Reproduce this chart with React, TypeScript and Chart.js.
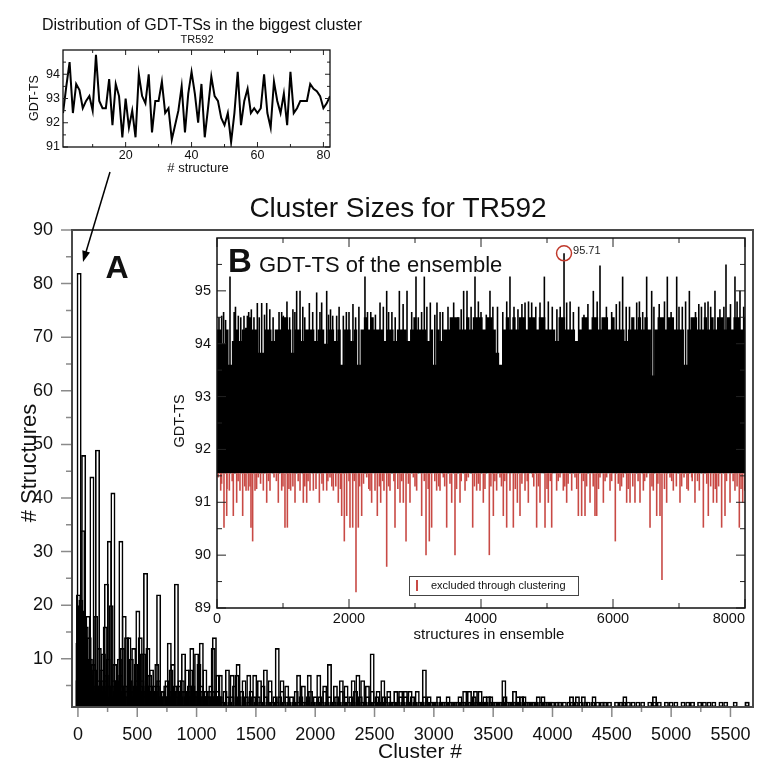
import React, { useEffect, useRef } from "react";
import { Chart, registerables } from "chart.js";
Chart.register(...registerables);

const FONT = '"Liberation Sans", Arial, Helvetica, sans-serif';
const RED = "#c84a45";

// ---------- Top-left inset: GDT-TS of the 82 structures of the biggest cluster ----------
const biggestClusterGdt = [
  92.4, 93.5, 94.5, 92.4, 93.6, 93.35, 92.6, 92.9, 93.1, 92.5,
  94.8, 92.9, 92.6, 92.6, 93.8, 91.9, 93.6, 93.1, 91.4, 93.0,
  91.8, 92.5, 91.4, 94.0, 93.1, 92.8, 94.0, 91.6, 92.9, 92.9,
  93.7, 92.4, 92.6, 91.3, 91.9, 92.5, 93.5, 91.6, 93.2, 94.1,
  93.2, 92.0, 93.6, 91.4, 92.6, 93.9, 93.1, 92.9, 92.2, 91.9,
  92.4, 91.2, 92.4, 94.1, 91.9, 92.9, 93.4, 92.4, 92.6, 92.4,
  92.6, 94.0, 92.4, 91.8, 93.7, 92.9, 92.4, 93.2, 91.9, 94.1,
  92.4, 92.6, 92.9, 92.9, 92.9, 93.6, 93.4, 93.3, 93.1, 92.6, 92.8, 93.1,
];
const topXTicks = [20, 40, 60, 80];
const topXMinor = [10, 30, 50, 70];
const topYTicks = [91, 92, 93, 94];
const topYMinor = [91.5, 92.5, 93.5, 94.5];

// ---------- Main chart: cluster sizes ----------
const peakClusterIds = [
  0, 5, 10, 18, 25, 32, 40, 48, 55, 62, 70, 85, 95, 105, 118, 130, 150, 165, 180, 200,
  215, 230, 240, 255, 265, 280, 295, 310, 350, 362, 375, 390, 410, 430, 450, 470, 490, 505, 525, 540,
  555, 570, 590, 605, 620, 665, 680, 750, 770, 785, 800, 830, 860, 890, 920, 950, 960, 1000, 1020, 1040,
  1070, 1140, 1150, 1180, 1200, 1260, 1300, 1340, 1350, 1400, 1440, 1490, 1530, 1580, 1620, 1680, 1720, 1760, 1860, 1900,
  1950, 2030, 2080, 2120, 2170, 2220, 2260, 2320, 2360, 2400, 2440, 2480, 2530, 2570, 2620, 2680, 2720, 2760, 2800, 2920,
  3260, 3300, 3350, 3390, 3430, 3480, 3590, 3680, 3710, 3760, 3920, 4160, 4210, 4260, 4350, 4610, 4860, 5640,
];
const peakClusterSizes = [
  13, 22, 82, 20, 21, 19, 34, 48, 14, 12, 16, 18, 14, 10, 44, 9, 18, 49, 12, 8,
  11, 16, 24, 10, 32, 20, 41, 9, 10, 32, 12, 18, 14, 14, 10, 12, 9, 19, 14, 11,
  11, 26, 12, 7, 8, 9, 22, 6, 13, 8, 9, 24, 6, 11, 8, 8, 12, 11, 9, 13,
  8, 12, 14, 7, 7, 8, 7, 7, 9, 6, 7, 7, 6, 8, 6, 12, 6, 5, 7, 5,
  7, 7, 5, 9, 5, 6, 5, 6, 7, 6, 5, 11, 4, 6, 4, 4, 4, 4, 4, 8,
  4, 4, 4, 4, 3, 3, 6, 4, 3, 3, 3, 3, 3, 3, 3, 3, 3, 2,
];
// sizes of every 20th cluster (cluster 0, 20, 40, ... 5640)
const sampledClusterStep = 20;
const sampledClusterSizes = [
  6, 9, 5, 7, 4, 6, 5, 8, 4, 5, 6, 4, 7, 5, 3, 6, 4, 5, 7, 4,
  5, 3, 6, 4, 5, 3, 4, 6, 3, 5, 4, 3, 5, 4, 6, 3, 4, 5, 3, 4,
  3, 5, 4, 3, 6, 4, 3, 5, 3, 4, 3, 4, 5, 3, 4, 3, 5, 4, 3, 4,
  3, 2, 4, 3, 2, 3, 5, 2, 3, 4, 2, 3, 2, 4, 3, 2, 3, 2, 5, 3,
  2, 4, 2, 3, 2, 3, 4, 2, 3, 2, 3, 2, 4, 2, 3, 2, 2, 3, 4, 2,
  3, 2, 3, 2, 4, 2, 3, 2, 2, 3, 2, 4, 2, 3, 2, 3, 2, 4, 2, 3,
  2, 2, 3, 2, 4, 2, 3, 2, 2, 3, 2, 3, 2, 2, 4, 2, 3, 2, 3, 2,
  2, 3, 2, 4, 2, 2, 3, 2, 3, 2,
  2, 2, 3, 2, 2, 2, 3, 2, 2, 2, 2, 3, 2, 2, 2, 2, 2, 3, 2, 2,
  2, 2, 2, 3, 2, 2, 2, 2, 2, 2, 3, 2, 2, 2, 2, 2, 2, 3, 2, 2,
  2, 2, 2, 2, 3, 2, 2, 2, 2, 2,
  2, 1, 2, 2, 1, 2, 1, 2, 2, 1, 2, 1, 2, 1, 2, 2, 1, 2, 1, 2,
  1, 2, 2, 1, 2, 1, 1, 2, 1, 2, 2, 1, 2, 1, 2, 1, 2, 1, 2, 1,
  1, 2, 1, 2, 1, 2, 1, 1, 2, 1, 2, 1, 2, 1, 1, 2, 1, 2, 1, 2,
  1, 1, 2, 1, 2, 1, 2, 1, 2, 1, 1, 2, 1, 2, 1, 1, 1, 2, 1, 1,
  1, 1, 2,
];
// sizes of clusters 10, 30, 50, ... 1190 (the dense start of the list)
const sampledOddClusterStart = 10;
const sampledOddClusterSizes = [
  8, 5, 10, 6, 4, 7, 5, 4, 6, 5, 4, 6, 5, 3, 5, 4, 6, 4, 5, 3,
  4, 5, 3, 4, 6, 3, 5, 4, 3, 4, 5, 3, 4, 5, 3, 4, 3, 5, 4, 3,
  4, 3, 5, 3, 4, 3, 4, 3, 5, 3, 4, 3, 4, 3, 3, 4, 3, 4, 3, 3,
];
const mainXTicks = [0, 500, 1000, 1500, 2000, 2500, 3000, 3500, 4000, 4500, 5000, 5500];
const mainXMinor = [250, 750, 1250, 1750, 2250, 2750, 3250, 3750, 4250, 4750, 5250];
const mainYTicks = [10, 20, 30, 40, 50, 60, 70, 80, 90];
const mainYMinor = [5, 15, 25, 35, 45, 55, 65, 75, 85];

// ---------- Inset B: GDT-TS of the ensemble ----------
const clusterCutoff = 91.55;
const bestStructure = 5258;
const bestValue = 95.71;
const plateauStep = 50;
const ensemblePlateau = [
  94.27, 94.27, 94.0, 94.27, 93.6, 94.05, 94.27, 94.05, 94.27, 94.3,
  94.5, 94.27, 94.27, 93.83, 93.83, 94.27, 94.27, 94.05, 94.27, 94.27,
  94.5, 94.5, 94.27, 93.83, 94.27, 94.27, 94.05, 94.27, 94.27, 94.27,
  94.05, 94.27, 94.27, 94.0, 94.27, 94.27, 94.05, 94.27, 93.6, 94.27,
  94.27, 94.05, 94.27, 93.6, 94.27, 94.5, 94.27, 94.5, 94.27, 94.27,
  94.27, 94.05, 94.27, 94.27, 94.05, 94.27, 94.27, 94.27, 94.05, 94.27,
  94.5, 94.27, 94.27, 94.27, 94.05, 94.27, 93.6, 94.27, 94.05, 94.27,
  94.27, 94.5, 94.5, 94.5, 94.27, 94.27, 94.5, 94.27, 94.5, 94.5,
  94.5, 94.27, 94.5, 94.5, 94.27, 93.83, 93.6, 94.27, 94.5, 94.27,
  94.5, 94.27, 94.5, 94.5, 94.27, 94.5, 94.5, 94.27, 94.5, 94.5,
  94.27, 94.27, 94.27, 94.05, 94.5, 94.5, 94.27, 94.27, 94.27, 94.05,
  94.27, 94.5, 94.5, 94.27, 94.5, 94.5, 94.27, 94.5, 94.5, 94.27,
  94.5, 94.27, 94.27, 94.27, 94.05, 94.27, 94.5, 94.27, 94.5, 94.27,
  94.5, 94.27, 93.4, 94.27, 94.5, 94.5, 94.27, 94.5, 94.5, 94.27,
  94.27, 94.27, 93.6, 94.27, 94.5, 94.5, 94.27, 94.27, 94.5, 94.27,
  94.5, 94.27, 94.5, 94.5, 94.27, 94.5, 94.27, 94.5, 94.5, 94.27,
  94.5,
];
const spikeStructures = [
  71, 197, 323, 409, 460, 611, 677, 753, 1005, 1207, 1258, 1399, 1510, 1586, 1662, 1753, 1813, 1914,
  2242, 2470, 2571, 2763, 2879, 3015, 3141, 3232, 3333, 3586, 3737, 3788, 3909, 4136, 4439, 4667,
  4768, 4894, 4960, 5298, 5702, 5803, 6146, 6359, 6510, 6586, 6823, 6965, 7157, 7394, 7545, 7712,
  7848, 7924,
  30, 130, 260, 360, 520, 560, 720, 850, 940, 1100, 1150, 1330, 1450, 1690, 2000, 2100, 2150, 2330,
  2400, 2650, 2700, 2950, 3050, 3300, 3420, 3650, 3850, 4000, 4080, 4250, 4330, 4560, 4620, 5080,
  5150, 5400, 5480, 5560, 5900, 5980, 6050, 6250, 6450, 6700, 6880, 7050, 7250, 7300, 7480, 7620,
  7780, 7980,
  100, 280, 480, 640, 800, 980, 1060, 1180, 1300, 1560, 1720, 1850, 1960, 2060, 2280, 2520, 2600, 2820,
  3100, 3180, 3380, 3500, 3700, 3960, 4180, 4390, 4500, 4720, 4830, 5020, 5200, 5350, 5620, 5760,
  6100, 6200, 6400, 6620, 6780, 7000, 7100, 7340, 7440, 7680, 7880,
];
const spikeValues = [
  94.53, 95.27, 94.53, 94.53, 94.53, 94.77, 94.77, 94.77, 94.53, 95.0, 95.0, 94.77, 94.97, 94.78, 95.0, 94.53, 94.53, 94.53,
  95.27, 94.78, 95.0, 95.0, 95.0, 95.27, 95.27, 94.78, 94.78, 94.78, 95.0, 95.0, 95.27, 95.0, 95.27, 94.78,
  94.78, 94.78, 95.27, 94.78, 95.0, 95.48, 95.27, 94.78, 95.27, 95.0, 95.27, 95.27, 95.0, 94.78, 95.0, 95.5,
  95.27, 95.0,
  94.5, 94.45, 94.6, 94.5, 94.65, 94.5, 94.55, 94.5, 94.6, 94.5, 94.65, 94.5, 94.6, 94.55, 94.6, 94.5, 94.7, 94.6,
  94.55, 94.6, 94.5, 94.6, 94.5, 94.55, 94.6, 94.5, 94.7, 94.6, 94.55, 94.7, 94.6, 94.65, 94.75, 94.7,
  94.65, 94.6, 94.7, 94.55, 94.7, 94.6, 94.75, 94.7, 94.6, 94.75, 94.6, 94.7, 94.6, 94.75, 94.7, 94.65,
  94.75, 94.7,
  94.6, 94.7, 94.6, 94.5, 94.65, 94.6, 94.8, 94.6, 94.7, 94.6, 94.65, 94.7, 94.6, 94.75, 94.6, 94.7, 94.6, 94.75,
  94.6, 94.7, 94.6, 94.7, 94.65, 94.8, 94.7, 94.8, 94.7, 94.8, 94.7, 94.8, 94.7, 94.8, 94.75, 94.8,
  94.8, 94.7, 94.8, 94.7, 94.8, 94.7, 94.8, 94.7, 94.8, 94.7, 94.8,
];
const excludedStructures = [
  20, 56, 106, 147, 187, 247, 298, 348, 389, 440, 475, 515, 540, 576, 626, 702, 753, 803, 864, 929,
  980, 1030, 1066, 1116, 1182, 1258, 1308, 1359, 1409, 1460, 1551, 1611, 1662, 1712, 1763, 1838, 1889, 1929, 1965, 2015,
  2056, 2106, 2141, 2192, 2268, 2318, 2343, 2394, 2429, 2480, 2530, 2571, 2621, 2697, 2773, 2823, 2864, 2924, 2975, 3025,
  3101, 3167, 3217, 3252, 3328, 3379, 3429, 3480, 3556, 3606, 3682, 3758, 3808, 3874, 3934, 3985, 4035, 4126, 4187, 4237,
  4288, 4338, 4389, 4439, 4490, 4551, 4591, 4667, 4717, 4783, 4843, 4894, 4970, 5020, 5071, 5146, 5197, 5247, 5298, 5374,
  5424, 5475, 5525, 5576, 5652, 5727, 5753, 5803, 5854, 5904, 5955, 6035, 6106, 6157, 6207, 6258, 6333, 6409, 6460, 6510,
  6561, 6611, 6662, 6712, 6742, 6813, 6864, 6914, 7015, 7076, 7141, 7192, 7242, 7308, 7369, 7444, 7520, 7571, 7646, 7697,
  7773, 7848, 7914, 7965, 8000,
  70, 230, 420, 660, 900, 1150, 1380, 1590, 1800, 2000, 2220, 2460, 2680, 2900, 3140, 3360, 3530, 3700, 3960, 4150,
  4360, 4620, 4800, 5050, 5320, 5600, 5880, 6080, 6300, 6480, 6680, 6960, 7200, 7420, 7600, 7820,
  150, 320, 500, 600, 780, 1000, 1090, 1230, 1330, 1500, 1680, 1740, 1870, 2080, 2160, 2300, 2510, 2600, 2740, 2800,
  3000, 3200, 3300, 3450, 3630, 3780, 3900, 4060, 4210, 4310, 4520, 4700, 4870, 5000, 5170, 5270, 5450, 5550, 5700, 5780,
  5980, 6130, 6230, 6380, 6590, 6780, 6890, 7040, 7120, 7280, 7480, 7550, 7720, 7880, 7940,
];
const excludedValues = [
  91.47, 91.22, 90.52, 90.74, 91.22, 90.74, 90.99, 91.22, 90.74, 91.22, 91.22, 90.52, 90.26, 91.22, 91.47, 91.22, 90.99, 91.22, 91.47, 90.99,
  91.22, 90.52, 90.52, 91.22, 90.99, 91.22, 90.99, 90.99, 91.22, 91.22, 90.99, 91.22, 91.22, 91.47, 91.22, 90.99, 90.74, 90.26, 90.74, 90.52,
  90.52, 89.3, 90.52, 90.74, 91.47, 91.22, 90.99, 91.22, 90.74, 90.99, 91.22, 89.78, 91.22, 90.52, 90.99, 90.99, 90.26, 90.99, 91.47, 91.22,
  90.74, 90.0, 90.26, 90.52, 91.22, 91.22, 91.47, 90.52, 90.99, 90.0, 90.99, 91.22, 91.47, 90.52, 91.22, 91.22, 90.99, 90.0, 90.74, 91.22,
  91.47, 90.74, 90.52, 91.22, 90.52, 90.99, 90.74, 91.22, 90.99, 91.47, 90.52, 90.99, 90.52, 90.99, 90.52, 91.22, 91.47, 91.22, 90.99, 91.22,
  91.47, 90.74, 90.74, 90.74, 90.99, 90.74, 90.74, 91.47, 90.99, 91.47, 91.22, 90.26, 91.22, 91.47, 90.99, 90.99, 90.99, 90.99, 91.22, 91.47,
  90.52, 91.22, 90.74, 90.74, 89.53, 90.99, 91.47, 91.22, 90.99, 91.47, 91.22, 91.47, 90.99, 91.22, 90.52, 90.74, 90.99, 90.99, 90.52, 90.74,
  90.99, 91.22, 90.52, 90.99, 91.22,
  91.35, 91.4, 91.3, 91.35, 91.4, 91.3, 91.4, 91.35, 91.3, 91.4, 91.35, 91.3, 91.4, 91.35, 91.4, 91.3, 91.35, 91.4, 91.35, 91.3,
  91.4, 91.35, 91.3, 91.4, 91.35, 91.3, 91.4, 91.35, 91.3, 91.4, 91.35, 91.3, 91.4, 91.35, 91.3, 91.4,
  91.25, 91.4, 91.3, 91.25, 91.4, 91.3, 91.25, 91.4, 91.3, 91.25, 91.4, 91.3, 91.25, 91.4, 91.3, 91.25, 91.4, 91.3, 91.25, 91.4,
  91.3, 91.25, 91.4, 91.3, 91.25, 91.4, 91.3, 91.25, 91.4, 91.3, 91.25, 91.4, 91.3, 91.25, 91.4, 91.3, 91.25, 91.4, 91.3, 91.25,
  91.4, 91.3, 91.25, 91.4, 91.3, 91.25, 91.4, 91.3, 91.25, 91.4, 91.3, 91.25, 91.4, 91.3, 91.25,
];
const ensembleXTicks = [0, 2000, 4000, 6000, 8000];
const ensembleXMinor = [1000, 3000, 5000, 7000];
const ensembleYTicks = [89, 90, 91, 92, 93, 94, 95];
const ensembleYMinor = [89.5, 90.5, 91.5, 92.5, 93.5, 94.5, 95.5];

// ---------- helpers ----------
type TickSpec = { axis: "x" | "y"; values: number[]; len: number; inside: boolean; both: boolean; color: string; width: number };
type TextSpec = { t: string; x: number; y: number; font: string; color?: string; align?: CanvasTextAlign; baseline?: CanvasTextBaseline; rot?: number };

function drawText(ctx: CanvasRenderingContext2D, t: TextSpec) {
  ctx.save();
  ctx.font = t.font;
  ctx.fillStyle = t.color || "#111";
  ctx.textAlign = t.align || "center";
  ctx.textBaseline = t.baseline || "middle";
  ctx.translate(t.x, t.y);
  if (t.rot) ctx.rotate(t.rot);
  ctx.fillText(t.t, 0, 0);
  ctx.restore();
}

function makeDecor(cfg: { bg?: number[]; frameColor: string; frameWidth: number; ticks: TickSpec[]; texts: TextSpec[]; extra?: (c: any) => void }) {
  return {
    id: "decor",
    beforeDraw(chart: any) {
      if (!cfg.bg) return;
      const ctx = chart.ctx;
      ctx.save();
      ctx.fillStyle = "#fff";
      ctx.fillRect(cfg.bg[0], cfg.bg[1], cfg.bg[2], cfg.bg[3]);
      ctx.restore();
    },
    afterDraw(chart: any) {
      const { ctx, chartArea: a, scales } = chart;
      ctx.save();
      for (const tk of cfg.ticks) {
        ctx.strokeStyle = tk.color;
        ctx.lineWidth = tk.width;
        ctx.beginPath();
        for (const v of tk.values) {
          if (tk.axis === "x") {
            const p = scales.x.getPixelForValue(v);
            if (p < a.left - 0.5 || p > a.right + 0.5) continue;
            const d = tk.inside ? -tk.len : tk.len;
            ctx.moveTo(p, a.bottom);
            ctx.lineTo(p, a.bottom + d);
            if (tk.both) {
              ctx.moveTo(p, a.top);
              ctx.lineTo(p, a.top - d);
            }
          } else {
            const p = scales.y.getPixelForValue(v);
            if (p < a.top - 0.5 || p > a.bottom + 0.5) continue;
            const d = tk.inside ? tk.len : -tk.len;
            ctx.moveTo(a.left, p);
            ctx.lineTo(a.left + d, p);
            if (tk.both) {
              ctx.moveTo(a.right, p);
              ctx.lineTo(a.right - d, p);
            }
          }
        }
        ctx.stroke();
      }
      ctx.strokeStyle = cfg.frameColor;
      ctx.lineWidth = cfg.frameWidth;
      ctx.strokeRect(a.left, a.top, a.right - a.left, a.bottom - a.top);
      for (const t of cfg.texts) drawText(ctx, t);
      if (cfg.extra) cfg.extra(chart);
      ctx.restore();
    },
  };
}

function zeroPad(s: any) {
  s.paddingLeft = 0;
  s.paddingRight = 0;
  s.paddingTop = 0;
  s.paddingBottom = 0;
}

function fixedTicks(values: number[]) {
  return (s: any) => {
    s.ticks = values.map((v) => ({ value: v }));
  };
}

const noGrid = { display: false, drawTicks: false };

export default function App() {
  const mainRef = useRef<HTMLCanvasElement>(null);
  const bRef = useRef<HTMLCanvasElement>(null);
  const topRef = useRef<HTMLCanvasElement>(null);

  useEffect(() => {
    // ----- main chart -----
    const mainBars = [
      ...sampledClusterSizes.map((s, i) => ({ x: i * sampledClusterStep, y: s })),
      ...sampledOddClusterSizes.map((s, i) => ({ x: sampledOddClusterStart + i * sampledClusterStep, y: s })),
      ...peakClusterIds.map((c, i) => ({ x: c, y: peakClusterSizes[i] })),
    ];
    const main = new Chart(mainRef.current as HTMLCanvasElement, {
      type: "bar",
      data: {
        datasets: [
          {
            data: mainBars,
            base: 1,
            barThickness: 5,
            borderWidth: 1.6,
            borderColor: "#000",
            backgroundColor: "rgba(0,0,0,0)",
            borderSkipped: false,
            inflateAmount: 0,
          } as any,
        ],
      },
      options: {
        responsive: false,
        animation: false,
        devicePixelRatio: 1,
        events: [],
        layout: { padding: { left: 0, top: 230, right: 11, bottom: 0 } },
        plugins: { legend: { display: false }, tooltip: { enabled: false } },
        scales: {
          x: {
            type: "linear",
            min: -50,
            max: 5690,
            offset: false,
            grid: noGrid,
            border: { display: false },
            ticks: { font: { family: FONT, size: 18 }, color: "#111", padding: 17, maxRotation: 0, minRotation: 0, autoSkip: false, callback: (v: any) => String(v) },
            afterBuildTicks: fixedTicks(mainXTicks),
            afterFit: (s: any) => {
              s.height = 55;
              zeroPad(s);
            },
          },
          y: {
            type: "linear",
            min: 1,
            max: 90,
            stacked: false,
            grid: noGrid,
            border: { display: false },
            ticks: { font: { family: FONT, size: 18 }, color: "#111", padding: 19, autoSkip: false, callback: (v: any) => String(v) },
            afterBuildTicks: fixedTicks(mainYTicks),
            afterFit: (s: any) => {
              s.width = 72;
              zeroPad(s);
            },
          },
        },
      } as any,
      plugins: [
        makeDecor({
          frameColor: "#4a4a4a",
          frameWidth: 2,
          ticks: [
            { axis: "x", values: mainXTicks, len: 10, inside: false, both: false, color: "#8a8a8a", width: 1.5 },
            { axis: "x", values: mainXMinor, len: 5, inside: false, both: false, color: "#8a8a8a", width: 1.5 },
            { axis: "y", values: mainYTicks, len: 11, inside: false, both: false, color: "#8a8a8a", width: 1.5 },
            { axis: "y", values: mainYMinor, len: 6, inside: false, both: false, color: "#8a8a8a", width: 1.5 },
          ],
          texts: [
            { t: "Cluster Sizes for TR592", x: 398, y: 217, font: `28px ${FONT}`, baseline: "alphabetic" },
            { t: "A", x: 117, y: 278, font: `bold 32px ${FONT}`, baseline: "alphabetic" },
            { t: "# Structures", x: 30, y: 463, font: `22px ${FONT}`, rot: -Math.PI / 2 },
            { t: "Cluster #", x: 420, y: 752, font: `21px ${FONT}` },
          ],
          extra: (chart: any) => {
            const ctx = chart.ctx as CanvasRenderingContext2D;
            const x0 = 110, y0 = 172, x1 = 83, y1 = 262;
            const ang = Math.atan2(y1 - y0, x1 - x0);
            ctx.strokeStyle = "#000";
            ctx.lineWidth = 1.5;
            ctx.beginPath();
            ctx.moveTo(x0, y0);
            ctx.lineTo(x1 - 8 * Math.cos(ang), y1 - 8 * Math.sin(ang));
            ctx.stroke();
            ctx.fillStyle = "#000";
            ctx.beginPath();
            ctx.moveTo(x1, y1);
            ctx.lineTo(x1 - 11 * Math.cos(ang) + 4 * Math.sin(ang), y1 - 11 * Math.sin(ang) - 4 * Math.cos(ang));
            ctx.lineTo(x1 - 11 * Math.cos(ang) - 4 * Math.sin(ang), y1 - 11 * Math.sin(ang) + 4 * Math.cos(ang));
            ctx.closePath();
            ctx.fill();
          },
        }) as any,
      ],
    });

    // ----- inset B -----
    const ensembleBars = [
      ...spikeStructures.map((s, i) => ({ x: s, y: spikeValues[i] })),
      { x: bestStructure, y: bestValue },
      ...excludedStructures.map((s, i) => ({ x: s, y: excludedValues[i] })),
    ];
    const plateauPts = ensemblePlateau.map((v, i) => ({ x: i * plateauStep, y: v }));
    const insetB = new Chart(bRef.current as HTMLCanvasElement, {
      type: "bar",
      data: {
        datasets: [
          {
            type: "bar",
            data: ensembleBars,
            base: clusterCutoff,
            barThickness: 1.6,
            borderWidth: 0,
            inflateAmount: 0,
            backgroundColor: (c: any) => (c.raw && c.raw.y < clusterCutoff ? RED : "#000"),
          } as any,
          {
            type: "line",
            data: plateauPts,
            stepped: "middle",
            fill: { value: clusterCutoff },
            backgroundColor: "#000",
            borderColor: "#000",
            borderWidth: 0,
            pointRadius: 0,
          } as any,
        ],
      },
      options: {
        responsive: false,
        animation: false,
        devicePixelRatio: 1,
        events: [],
        layout: { padding: { left: 0, top: 14, right: 5, bottom: 0 } },
        plugins: { legend: { display: false }, tooltip: { enabled: false } },
        scales: {
          x: {
            type: "linear",
            min: 0,
            max: 8000,
            offset: false,
            grid: noGrid,
            border: { display: false },
            ticks: { display: false },
            afterBuildTicks: fixedTicks(ensembleXTicks),
            afterFit: (s: any) => {
              s.height = 38;
              zeroPad(s);
            },
          },
          y: {
            type: "linear",
            min: 89,
            max: 96,
            stacked: false,
            grid: noGrid,
            border: { display: false },
            ticks: { font: { family: FONT, size: 14.5 }, color: "#111", padding: 6, autoSkip: false, callback: (v: any) => String(v) },
            afterBuildTicks: fixedTicks(ensembleYTicks),
            afterFit: (s: any) => {
              s.width = 49;
              zeroPad(s);
            },
          },
        },
      } as any,
      plugins: [
        makeDecor({
          bg: [14, 9, 568, 403],
          frameColor: "#111",
          frameWidth: 1.5,
          ticks: [
            { axis: "x", values: ensembleXTicks, len: 9, inside: true, both: true, color: "#222", width: 1 },
            { axis: "x", values: ensembleXMinor, len: 5, inside: true, both: true, color: "#222", width: 1 },
            { axis: "y", values: ensembleYTicks, len: 9, inside: true, both: true, color: "#222", width: 1 },
            { axis: "y", values: ensembleYMinor, len: 5, inside: true, both: true, color: "#222", width: 1 },
          ],
          texts: [
            { t: "B", x: 72, y: 48, font: `bold 33px ${FONT}`, baseline: "alphabetic" },
            { t: "GDT-TS of the ensemble", x: 91, y: 48, font: `22px ${FONT}`, align: "left", baseline: "alphabetic" },
            { t: "GDT-TS", x: 12, y: 197, font: `14.5px ${FONT}`, rot: -Math.PI / 2 },
            { t: "structures in ensemble", x: 321, y: 411, font: `15px ${FONT}` },
          ],
          extra: (chart: any) => {
            const ctx = chart.ctx as CanvasRenderingContext2D;
            const a = chart.chartArea;
            const sx = chart.scales.x, sy = chart.scales.y;
            ctx.font = `14.5px ${FONT}`;
            ctx.fillStyle = "#111";
            ctx.textBaseline = "middle";
            ensembleXTicks.forEach((v, i) => {
              ctx.textAlign = i === ensembleXTicks.length - 1 ? "right" : "center";
              ctx.fillText(String(v), sx.getPixelForValue(v), a.bottom + 11);
            });
            const px = sx.getPixelForValue(bestStructure), py = sy.getPixelForValue(bestValue);
            ctx.strokeStyle = "#c0392b";
            ctx.lineWidth = 1.5;
            ctx.beginPath();
            ctx.arc(px, py, 7.5, 0, Math.PI * 2);
            ctx.stroke();
            ctx.font = `11px ${FONT}`;
            ctx.fillStyle = "#222";
            ctx.textAlign = "left";
            ctx.fillText(bestValue.toFixed(2), px + 9, py - 2.5);
            // legend
            ctx.fillStyle = "#fff";
            ctx.fillRect(241, 352, 169, 19);
            ctx.strokeStyle = "#444";
            ctx.lineWidth = 1;
            ctx.strokeRect(241.5, 352.5, 169, 19);
            ctx.strokeStyle = RED;
            ctx.lineWidth = 2;
            ctx.beginPath();
            ctx.moveTo(249, 356);
            ctx.lineTo(249, 367);
            ctx.stroke();
            ctx.fillStyle = "#111";
            ctx.font = `11px ${FONT}`;
            ctx.fillText("excluded through clustering", 263, 362);
          },
        }) as any,
      ],
    });

    // ----- top-left inset -----
    const topInset = new Chart(topRef.current as HTMLCanvasElement, {
      type: "line",
      data: {
        datasets: [
          {
            data: biggestClusterGdt.map((v, i) => ({ x: i + 1, y: v })),
            borderColor: "#000",
            borderWidth: 2,
            pointRadius: 0,
            tension: 0,
            fill: false,
          },
        ],
      },
      options: {
        responsive: false,
        animation: false,
        devicePixelRatio: 1,
        events: [],
        layout: { padding: { left: 0, top: 50, right: 50, bottom: 0 } },
        plugins: { legend: { display: false }, tooltip: { enabled: false } },
        scales: {
          x: {
            type: "linear",
            min: 1,
            max: 82,
            grid: noGrid,
            border: { display: false },
            ticks: { font: { family: FONT, size: 12.5 }, color: "#111", padding: 1, maxRotation: 0, autoSkip: false, callback: (v: any) => String(v) },
            afterBuildTicks: fixedTicks(topXTicks),
            afterFit: (s: any) => {
              s.height = 43;
              zeroPad(s);
            },
          },
          y: {
            type: "linear",
            min: 91,
            max: 95,
            grid: noGrid,
            border: { display: false },
            ticks: { font: { family: FONT, size: 12.5 }, color: "#111", padding: 3, autoSkip: false, callback: (v: any) => String(v) },
            afterBuildTicks: fixedTicks(topYTicks),
            afterFit: (s: any) => {
              s.width = 63;
              zeroPad(s);
            },
          },
        },
      } as any,
      plugins: [
        makeDecor({
          frameColor: "#111",
          frameWidth: 1.3,
          ticks: [
            { axis: "x", values: topXTicks, len: 5, inside: true, both: true, color: "#222", width: 1 },
            { axis: "x", values: topXMinor, len: 3, inside: true, both: true, color: "#222", width: 1 },
            { axis: "y", values: topYTicks, len: 5, inside: true, both: true, color: "#222", width: 1 },
            { axis: "y", values: topYMinor, len: 3, inside: true, both: true, color: "#222", width: 1 },
          ],
          texts: [
            { t: "Distribution of GDT-TSs in the biggest cluster", x: 202, y: 30, font: `16px ${FONT}`, baseline: "alphabetic" },
            { t: "TR592", x: 197, y: 43, font: `11px ${FONT}`, baseline: "alphabetic" },
            { t: "# structure", x: 198, y: 168, font: `13px ${FONT}` },
            { t: "GDT-TS", x: 35, y: 98, font: `12.5px ${FONT}`, rot: -Math.PI / 2 },
          ],
        }) as any,
      ],
    });

    return () => {
      main.destroy();
      insetB.destroy();
      topInset.destroy();
    };
  }, []);

  return (
    <div style={{ position: "absolute", left: 0, top: 0, width: 764, height: 762, background: "#fff", overflow: "hidden" }}>
      <canvas ref={mainRef} width={764} height={762} style={{ position: "absolute", left: 0, top: 0 }} />
      <canvas ref={bRef} width={582} height={422} style={{ position: "absolute", left: 168, top: 224 }} />
      <canvas ref={topRef} width={380} height={190} style={{ position: "absolute", left: 0, top: 0 }} />
    </div>
  );
}
